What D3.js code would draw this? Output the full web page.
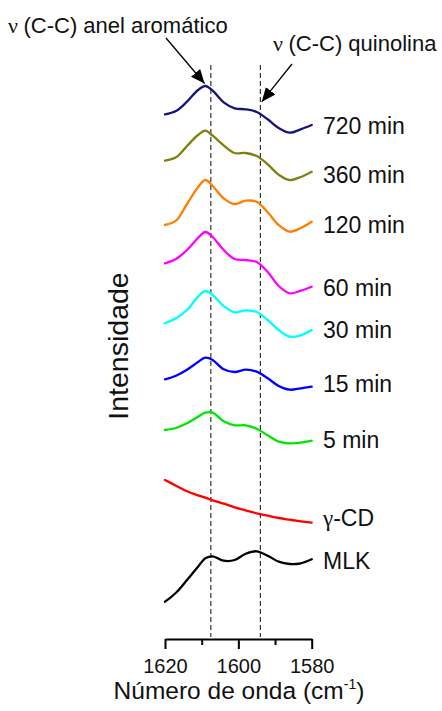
<!DOCTYPE html>
<html>
<head>
<meta charset="utf-8">
<script src="https://cdn.jsdelivr.net/npm/d3@7/dist/d3.min.js"></script>
<style>
  html, body { margin: 0; padding: 0; background: #fff; }
  svg { display: block; }
  text { font-family: "Liberation Sans", Arial, sans-serif; fill: #111; }
</style>
</head>
<body>
<svg id="chart" width="442" height="711"></svg>
<script>
// Wavenumber grid (cm^-1) shared by every spectrum
const wavenumbers = [1620, 1617, 1614, 1611, 1609, 1607, 1604, 1601, 1598, 1595, 1592, 1589, 1586, 1583, 1580];

// Spectra, top to bottom; each is a vertical offset plus intensities relative to it
const seriesNames   = ["720 min", "360 min", "120 min", "60 min", "30 min", "15 min", "5 min", "γ-CD", "MLK"];
const seriesColors  = ["#14147a", "#808010", "#ff8000", "#ff00ff", "#00ffff", "#0000ff", "#00e600", "#ff0000", "#000000"];
const seriesOffsets = [524.7, 478.3, 414.0, 375.7, 315.7, 259.7, 209.0, 159.0, 37.3];

const int720 = [0, 3.3, 12.6, 24.3, 28.3, 23.6, 12.0, 6.0, 5.0, 2.3, -5.0, -13.7, -18.4, -15.0, -10.7];
const int360 = [0, 3.4, 14.7, 25.7, 30.0, 25.0, 15.4, 7.7, 7.7, 4.7, -3.6, -14.0, -19.3, -16.3, -11.0];
const int120 = [0, 4.3, 21.0, 37.7, 45.0, 39.0, 26.7, 21.0, 24.3, 23.3, 12.7, 0.0, -6.7, -3.0, 3.3];
const int60  = [0, 4.3, 13.3, 25.3, 31.3, 26.3, 13.3, 4.3, 3.3, 1.3, -8.7, -22.7, -30.0, -27.4, -23.4];
const int30  = [0, 5.0, 13.3, 26.6, 32.3, 28.3, 17.3, 11.0, 13.0, 11.3, 3.3, -6.7, -13.4, -12.0, -6.7];
const int15  = [0, 3.6, 9.6, 17.3, 21.6, 19.3, 10.0, 7.3, 9.6, 7.6, 1.0, -6.7, -10.4, -9.0, -7.4];
const int5   = [0, 2.0, 6.7, 13.3, 17.3, 17.3, 8.7, 4.7, 4.7, 1.3, -5.3, -11.7, -13.3, -12.7, -10.7];
const intCD  = [0, -5.7, -11.3, -15.3, -17.7, -20.3, -23.7, -27.3, -30.3, -33.3, -35.7, -38.0, -39.7, -41.3, -42.7];
const intMLK = [0, 9.0, 21.7, 35.0, 43.4, 45.4, 41.0, 41.7, 48.0, 50.4, 46.0, 40.0, 37.7, 38.4, 42.4];
const seriesIntensities = [int720, int360, int120, int60, int30, int15, int5, intCD, intMLK];

// Axis ticks
const majorTicks = [1620, 1600, 1580];
const minorTicks = [1610, 1590];

// Band markers (dashed guides) and their annotations
const bandPositions = [1607.5, 1594];
const bandLabels = ["(C-C) anel aromático", "(C-C) quinolina"];

// ---- layout ----
const svg = d3.select("#chart");
svg.append("rect").attr("width", 442).attr("height", 711).attr("fill", "#fff");

const x = d3.scaleLinear().domain([1620, 1580]).range([165, 311.7]);
const y = d3.scaleLinear().domain([0, 600]).range([639, 39]);

const line = d3.line()
  .x(d => x(d.w))
  .y(d => y(d.v))
  .curve(d3.curveCatmullRom.alpha(0.5));

// dashed guides
svg.append("g").selectAll("line")
  .data(bandPositions)
  .join("line")
  .attr("x1", d => x(d)).attr("x2", d => x(d))
  .attr("y1", y(574)).attr("y2", y(2))
  .attr("stroke", "#222")
  .attr("stroke-width", 1.1)
  .attr("stroke-dasharray", "5,3");

// spectra
const series = seriesNames.map((name, i) => ({
  name,
  color: seriesColors[i],
  points: wavenumbers.map((w, j) => ({ w, v: seriesOffsets[i] + seriesIntensities[i][j] }))
}));

svg.append("g").selectAll("path")
  .data(series)
  .join("path")
  .attr("d", d => line(d.points))
  .attr("fill", "none")
  .attr("stroke", d => d.color)
  .attr("stroke-width", 2.3)
  .attr("stroke-linejoin", "round")
  .attr("stroke-linecap", "round");

// series labels to the right of each trace's end
const labelDy = [9.3, 11.6, 11, 9.3, 8.3, 5, 7.6, 3.3, 10];
const labels = svg.append("g");
series.forEach((s, i) => {
  const last = s.points[s.points.length - 1];
  const t = labels.append("text")
    .attr("x", 323)
    .attr("y", y(last.v) + labelDy[i])
    .attr("font-size", 23);
  if (s.name.startsWith("γ")) {
    t.append("tspan").attr("font-family", "'Liberation Serif', serif").text("γ");
    t.append("tspan").text(s.name.slice(1));
  } else {
    t.text(s.name);
  }
});

// x axis: major ticks with labels, minor ticks without
const axisG = svg.append("g").attr("transform", `translate(0,${y(0)})`);
axisG.call(d3.axisBottom(x).tickValues(majorTicks).tickSize(10).tickSizeOuter(0).tickPadding(10)
  .tickFormat(d3.format("d")));
axisG.append("g").call(d3.axisBottom(x).tickValues(minorTicks).tickSize(6).tickSizeOuter(0).tickFormat(""))
  .call(g => g.select(".domain").remove())
  .call(g => g.selectAll("text").remove());
axisG.selectAll("path, line").attr("stroke", "#000").attr("stroke-width", 2);
axisG.selectAll("text")
  .attr("font-size", 20)
  .attr("fill", "#111")
  .attr("font-family", "'Liberation Sans', Arial, sans-serif");

// axis titles
const xTitle = svg.append("text")
  .attr("x", 239).attr("y", 699)
  .attr("text-anchor", "middle")
  .attr("font-size", 24.5);
xTitle.append("tspan").text("Número de onda (cm");
xTitle.append("tspan").attr("font-size", 14).attr("dy", -10).text("-1");
xTitle.append("tspan").attr("dy", 10).text(")");

svg.append("text")
  .attr("transform", "translate(128,346) rotate(-90)")
  .attr("text-anchor", "middle")
  .attr("font-size", 28.5)
  .text("Intensidade");

// band annotations with arrows
const defs = svg.append("defs");
defs.append("marker")
  .attr("id", "arrowhead")
  .attr("markerUnits", "userSpaceOnUse")
  .attr("markerWidth", 15).attr("markerHeight", 12)
  .attr("refX", 14).attr("refY", 6)
  .attr("orient", "auto")
  .append("path")
  .attr("d", "M0,0L14,6L0,12Z")
  .attr("fill", "#000");

const annotations = [
  { text: bandLabels[0], tx: 8, ty: 33, from: [166, 38], tip: [1609.2, 555.5] },
  { text: bandLabels[1], tx: 273, ty: 51, from: [292, 64], tip: [1593.6, 537.3] }
];
annotations.forEach(a => {
  const t = svg.append("text").attr("x", a.tx).attr("y", a.ty).attr("font-size", 22);
  t.append("tspan").attr("font-family", "'Liberation Serif', serif").text("ν ");
  t.append("tspan").text(a.text);
  svg.append("line")
    .attr("x1", a.from[0]).attr("y1", a.from[1])
    .attr("x2", x(a.tip[0])).attr("y2", y(a.tip[1]))
    .attr("stroke", "#000").attr("stroke-width", 1.3)
    .attr("marker-end", "url(#arrowhead)");
});
</script>
</body>
</html>
